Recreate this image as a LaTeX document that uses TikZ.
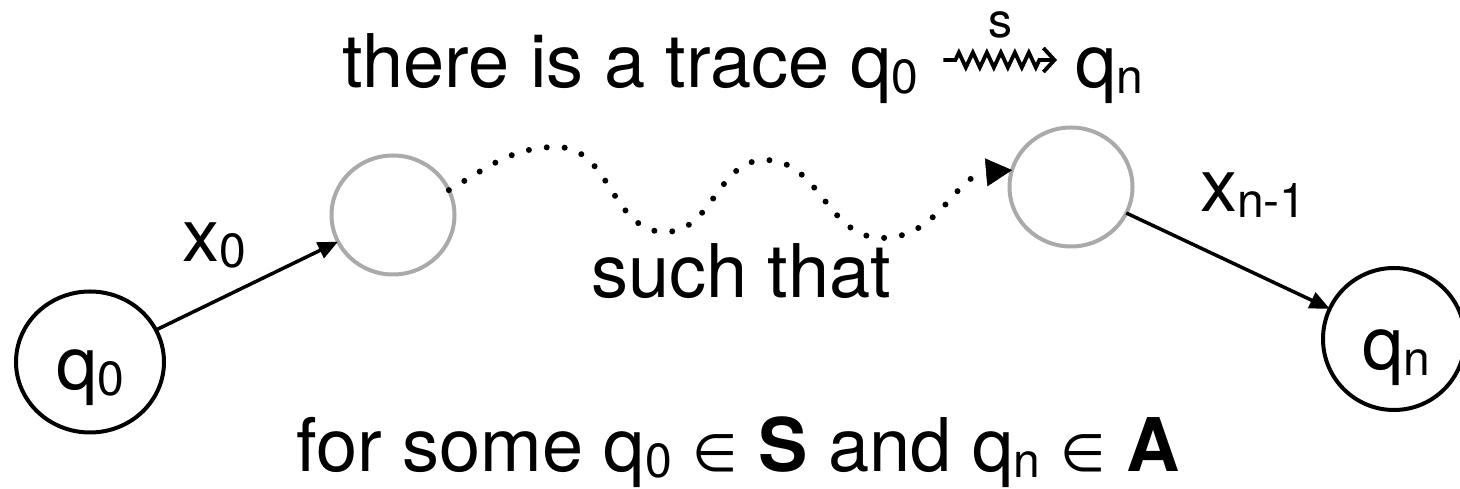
\documentclass[tikz,border=0pt]{standalone}
\usepackage{fontspec}
\setmainfont{TeX Gyre Heros}
\newfontfamily\symf{DejaVu Sans}
\usetikzlibrary{arrows.meta,decorations.pathmorphing,shapes.geometric,calc}
\newcommand\subtxt[1]{\raisebox{-6pt}{\fontsize{48}{48}\selectfont #1}}
\definecolor{ringgray}{RGB}{170,170,170}
\begin{document}
\begin{tikzpicture}[x=1pt,y=1pt,
  every node/.style={inner sep=0pt, outer sep=0pt},
  bigtext/.style={font=\fontsize{74}{88}\selectfont},
  state/.style={draw=black, line width=4pt, ellipse},
  gstate/.style={draw=ringgray, line width=4pt, ellipse, minimum width=123pt, minimum height=119pt},
  edge/.style={line width=3.5pt, -{Triangle[length=20pt,width=17pt]}},
  dotpath/.style={line width=6pt, line cap=round, dash pattern=on 0pt off 18pt,
     -{Triangle[length=26pt,width=28pt,line width=0.5pt]}},
  squig/.style={line width=3.8pt, decorate,
     decoration={zigzag, segment length=14pt, amplitude=7.5pt, pre length=12pt, post length=14pt},
     -{Straight Barb[length=11pt,width=24pt]}}]
\useasboundingbox (0,0) rectangle (1460,489);
\fill[white] (0,0) rectangle (1460,489);

% states
\node[state, minimum width=148pt, minimum height=141pt] (q0) at (90,127) {};
\node[anchor=base, bigtext] (q0t) at (90,99) {q\subtxt{0}};
\node[gstate] (g1) at (393,274) {};
\node[gstate] (g2) at (1071,302) {};
\node[state, minimum width=142pt, minimum height=142pt] (qn) at (1394,150) {};
\node[anchor=base, bigtext] (qnt) at (1396,119) {q\subtxt{n}};

% edges
\draw[edge] (q0) -- (g1);
\draw[edge] (g2) -- (qn);

% dotted trace
\coordinate (p1) at (557,342);
\coordinate (p2) at (665,257);
\coordinate (p3) at (765,329);
\coordinate (p4) at (882,251);
\draw[dotpath] (g1.24) to[out=30,in=180] (p1) to[out=0,in=180] (p2)
  to[out=0,in=180] (p3) to[out=0,in=180] (p4) to[out=0,in=185] (g2.164);

% labels
\node[anchor=base west, bigtext] (lx0) at (182,227) {x\subtxt{0}};
\node[anchor=base west, bigtext] (lxn) at (1200,277) {x\subtxt{n-1}};
\node[anchor=base, bigtext] (such) at (741,191) {such that};

% top line
\node[anchor=base west, bigtext] (t1) at (342,401) {there is a trace q\subtxt{0}};
\node[anchor=base west, bigtext] (t2) at (1075,401) {q\subtxt{n}};
\draw[squig] ($(t1.base east)+(25,28)$) -- ($(t2.base west)+(-18,28)$)
  node[midway, above=22pt, font=\fontsize{48}{48}\selectfont] (slab) {s};

% bottom line
\node[anchor=base, bigtext] (bot) at (738,17)
  {for some q\subtxt{0} {\symf\fontsize{52}{52}\selectfont ∈} {\bfseries S} and q\subtxt{n} {\symf\fontsize{52}{52}\selectfont ∈} {\bfseries A}};
\end{tikzpicture}
\end{document}
